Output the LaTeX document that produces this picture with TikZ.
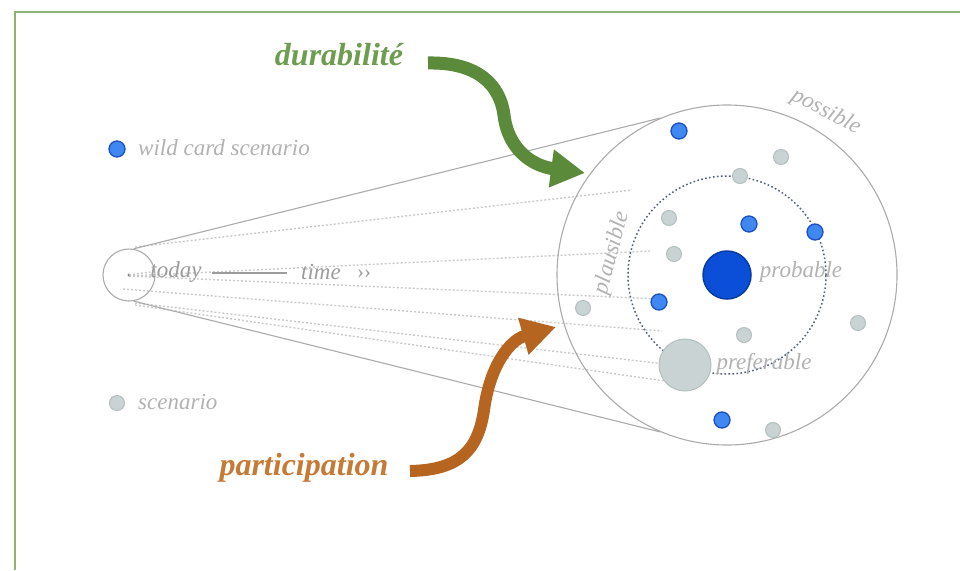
\documentclass[tikz,border=0pt]{standalone}
\usepackage{fontspec}
\setmainfont{Liberation Serif}
\usetikzlibrary{arrows.meta}
\definecolor{frameg}{HTML}{8DB36F}
\definecolor{lgrey}{HTML}{ABABAB}
\definecolor{txtgrey}{HTML}{B2B2B2}
\definecolor{txtdark}{HTML}{9C9C9C}
\definecolor{dotgrey}{HTML}{CACACA}
\definecolor{wildfill}{HTML}{3F88F2}
\definecolor{wilddraw}{HTML}{1C4FC4}
\definecolor{bigblue}{HTML}{0B4FD9}
\definecolor{bigbluedraw}{HTML}{0A3C9E}
\definecolor{scfill}{HTML}{C9D3D3}
\definecolor{scdraw}{HTML}{B4BFBF}
\definecolor{innerdot}{HTML}{52617C}
\definecolor{durg}{HTML}{5A8A3A}
\definecolor{durtxt}{HTML}{6E9C50}
\definecolor{parto}{HTML}{B5651F}
\definecolor{parttxt}{HTML}{C57A35}
\begin{document}
\begin{tikzpicture}[x=1pt,y=-1pt,
  wild/.style={circle,draw=wilddraw,fill=wildfill,line width=1.3pt,inner sep=0pt,minimum size=16pt},
  scen/.style={circle,draw=scdraw,fill=scfill,line width=1pt,inner sep=0pt,minimum size=15pt},
  lbl/.style={text=txtgrey,font=\itshape\fontsize{23}{23}\selectfont,inner sep=0pt},
  fan/.style={dotgrey,line width=1.4pt,dash pattern=on 2pt off 2pt},
  cone/.style={lgrey,line width=1.1pt},
  ring/.style={circle,draw=lgrey,line width=1.1pt,inner sep=0pt},
  bigarrow/.style={line width=13pt,-{Triangle[length=34pt,width=36pt]}},
  bigword/.style={font=\bfseries\itshape\fontsize{32}{32}\selectfont,inner sep=0pt,anchor=base}
]
\useasboundingbox (0,0) rectangle (960,570);
\fill[white] (0,0) rectangle (960,570);
\draw[frameg,line width=1.2pt] (15,570) -- (15,12) -- (960,12);

% fan of dotted lines
\coordinate (f1a) at (135,247); \coordinate (f1b) at (632,190);
\coordinate (f2a) at (129,276); \coordinate (f2b) at (650,251);
\coordinate (f3a) at (129,276); \coordinate (f3b) at (660,299);
\coordinate (f4a) at (123,289); \coordinate (f4b) at (662,331);
\coordinate (f5a) at (135,303); \coordinate (f5b) at (665,364);
\coordinate (f6a) at (135,305); \coordinate (f6b) at (665,381);
\draw[fan] (f1a) -- (f1b);
\draw[fan] (f2a) -- (f2b);
\draw[fan] (f3a) -- (f3b);
\draw[fan] (f4a) -- (f4b);
\draw[fan] (f5a) -- (f5b);
\draw[fan] (f6a) -- (f6b);

% circles
\node[ring,minimum size=340pt] (big) at (727,275) {};
\node[ring,minimum size=52pt] (now) at (129,275) {};
\fill[txtdark!80!black] (now.center) circle (1.6pt);
\draw[cone] (now.80) -- (big.113);
\draw[cone] (now.-80) -- (big.-113);
\node[circle,draw=innerdot,line width=1.5pt,dash pattern=on 1.6pt off 2.4pt,minimum size=198pt,inner sep=0pt] (inner) at (727,275) {};

% time axis
\node[text=txtdark,font=\itshape\fontsize{23}{23}\selectfont,inner sep=0pt] (today) at (176,272) {today};
\draw[fan] (now.center) -- (today.west);
\node[text=txtdark,font=\itshape\fontsize{23}{23}\selectfont,inner sep=0pt] (time) at (321,272) {time};
\draw[txtdark,line width=1.4pt] ([xshift=10pt]today.east |- 0,273) -- ([xshift=-14pt]time.west |- 0,273);
\node[text=txtdark,font=\fontsize{21}{21}\selectfont,inner sep=0pt] (chev) at (364,274) {››};

% scenario dots
\node[wild] (w1) at (679,131) {};
\node[wild] (w2) at (749,224) {};
\node[wild] (w3) at (815,232) {};
\node[wild] (w4) at (659,302) {};
\node[wild] (w5) at (722,420) {};
\node[circle,draw=bigbluedraw,fill=bigblue,line width=1.5pt,inner sep=0pt,minimum size=48pt] (prob) at (727,275) {};
\node[scen] (s1) at (781,157) {};
\node[scen] (s2) at (740,176) {};
\node[scen] (s3) at (669,218) {};
\node[scen] (s4) at (674,254) {};
\node[scen] (s5) at (583,308) {};
\node[scen] (s6) at (744,335) {};
\node[scen] (s7) at (858,323) {};
\node[scen] (s8) at (773,430) {};
\node[scen,minimum size=52pt] (pref) at (685,365) {};

% labels in the cone
\node[lbl,rotate=-28] (possible) at (826,112) {possible};
\node[lbl,rotate=75] (plausible) at (612,253) {plausible};
\node[lbl] (probable) at (801,272) {probable};
\node[lbl] (preferable) at (764,364) {preferable};

% legend
\node[wild] (lw) at (117,149) {};
\node[lbl,anchor=west] (lwt) at (138,148) {wild card scenario};
\node[scen] (ls) at (117,403) {};
\node[lbl,anchor=west] (lst) at (138,402) {scenario};

% big words and arrows
\node[bigword,text=durtxt] (dur) at (339,65) {durabilité};
\node[bigword,text=parttxt] (part) at (304,475) {participation};
\coordinate (dstart) at (428,63);
\coordinate (dend) at (585,173);
\coordinate (pstart) at (410,471);
\coordinate (pend) at (556,327);
\draw[bigarrow,durg] (dstart) .. controls (478,62) and (500,85) .. (504,115) .. controls (508,150) and (533,166) .. (dend);
\draw[bigarrow,parto,line width=12pt] (pstart) .. controls (460,470) and (478,450) .. (484,410) .. controls (490,365) and (510,340) .. (pend);
\end{tikzpicture}
\end{document}
